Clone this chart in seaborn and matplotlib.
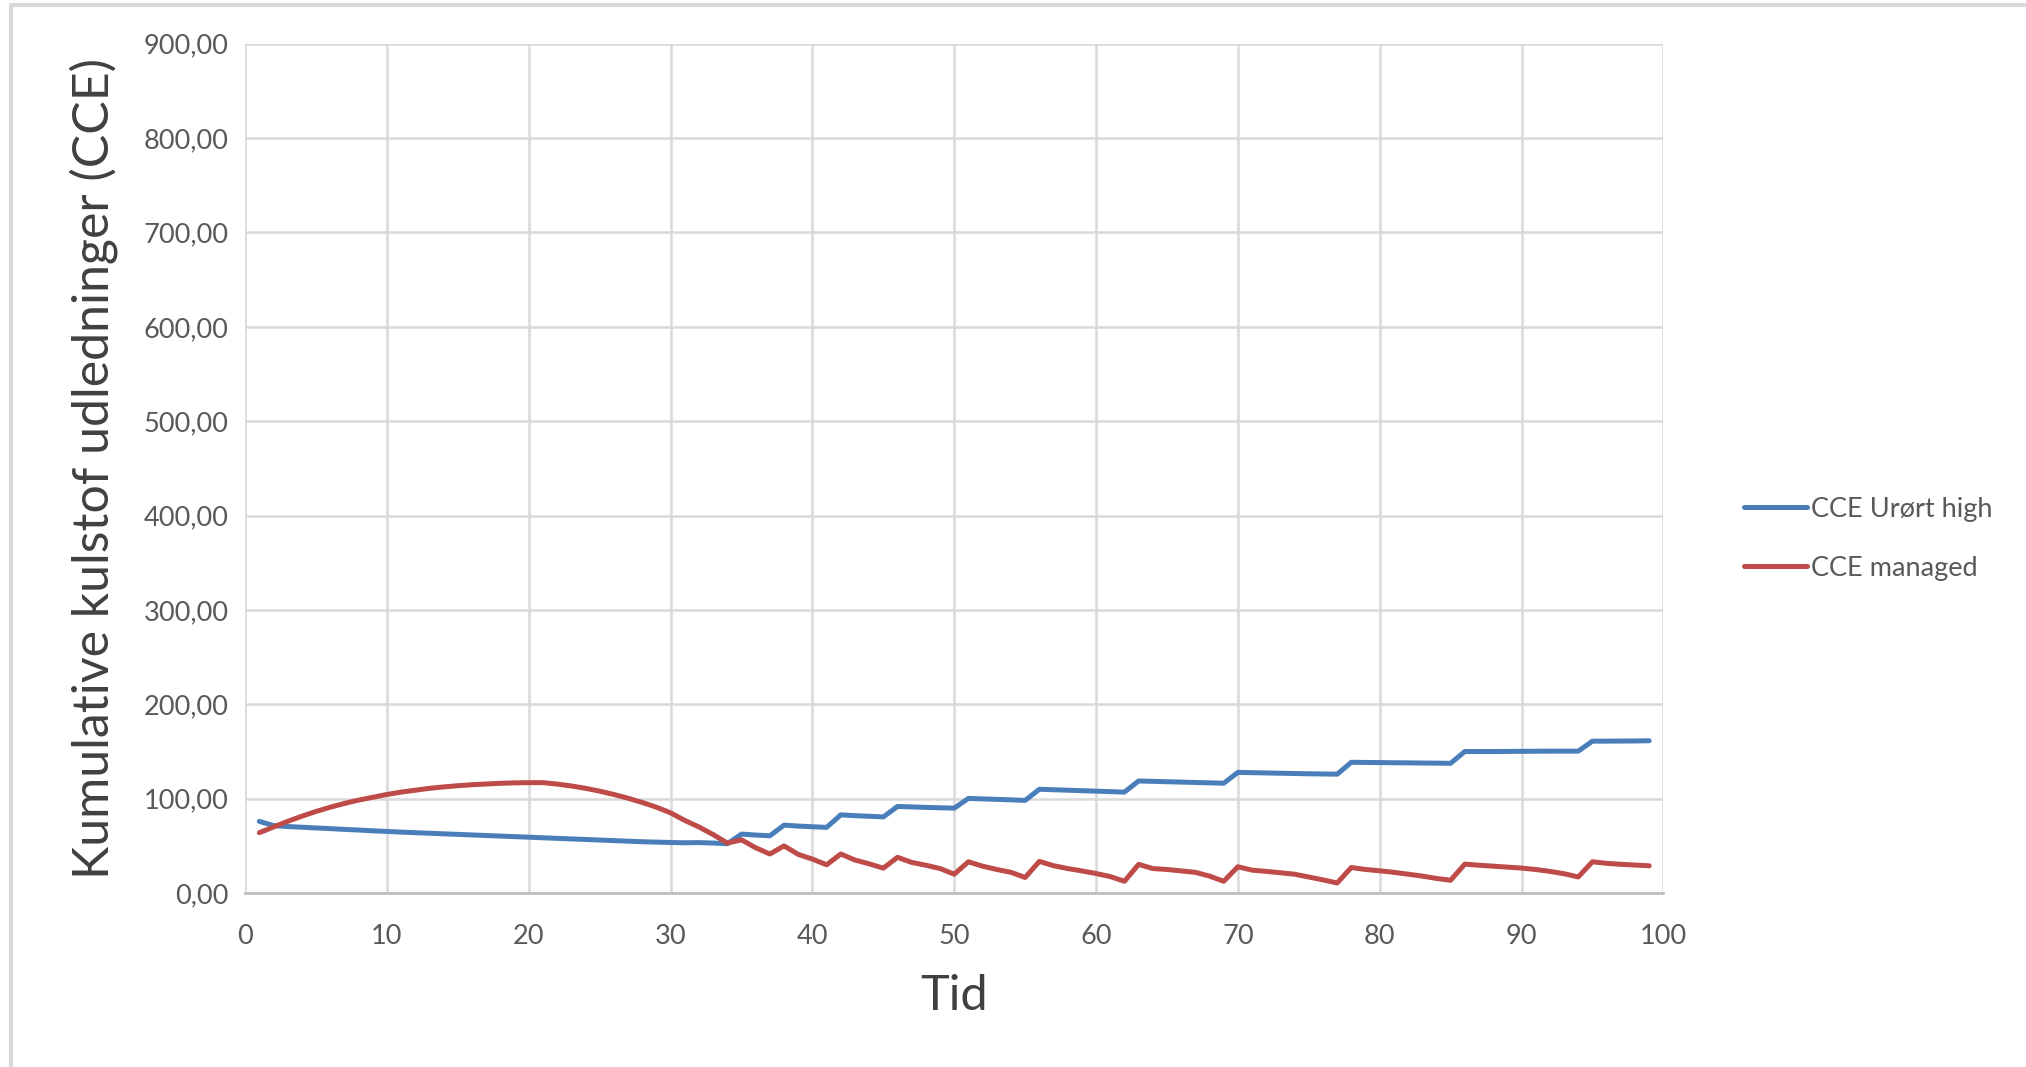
import numpy as np
import pandas as pd
import seaborn as sns
import matplotlib
matplotlib.use("Agg")
import matplotlib.pyplot as plt
from matplotlib.lines import Line2D
from matplotlib.ticker import FuncFormatter, MultipleLocator

years = list(range(1, 100))

cce_urort_high = [
    76, 71.5, 70.5, 69.8, 69, 68.3, 67.5, 66.8, 66, 65.3,
    64.6, 64, 63.4, 62.8, 62.2, 61.6, 61, 60.4, 59.8, 59.2,
    58.6, 58, 57.4, 56.8, 56.2, 55.6, 55, 54.4, 54, 53.6,
    53.3, 53.5, 53, 52.3, 62.5, 61.5, 60.7, 72, 71, 70.3,
    69.6, 82.9, 82, 81.4, 80.7, 91.8, 91.3, 90.8, 90.4, 90,
    100.3, 99.8, 99.3, 98.8, 98.2, 110, 109.5, 109, 108.5, 108,
    107.5, 107, 118.8, 118.4, 118, 117.6, 117.2, 116.8, 116.4, 127.9,
    127.6, 127.3, 127, 126.7, 126.4, 126.2, 126, 138.6, 138.4, 138.3,
    138.1, 138, 137.8, 137.7, 137.5, 150, 150, 150, 150.1, 150.2,
    150.3, 150.4, 150.4, 150.4, 161, 161, 161.1, 161.2, 161.4,
]

cce_managed = [
    64, 70, 76, 81.5, 86.5, 91, 95, 98.5, 101.5, 104.5,
    107, 109, 111, 112.5, 113.8, 114.8, 115.6, 116.3, 116.8, 117,
    117, 115.5, 113.5, 111, 108, 104.5, 100.5, 96, 91, 85,
    77, 70, 62, 53, 56.4, 48, 41.4, 50, 41, 36,
    30, 41.4, 35, 31, 26.4, 37.9, 32.5, 29.5, 26, 20,
    33.2, 28.5, 25, 22, 16.5, 33.6, 29, 26, 23.5, 20.7,
    17.5, 12.5, 30.4, 26, 25, 23.5, 22, 18, 12.5, 27.9,
    24.3, 23, 21.5, 20, 17, 14, 10.7, 27.1, 25, 23.6,
    22, 20, 18, 15.5, 13.6, 30.7, 29.5, 28.5, 27.5, 26.5,
    25, 23, 20.5, 17.1, 33.2, 31.5, 30.5, 29.7, 28.9,
]

series_names = ["CCE Urørt high", "CCE managed"]
x_label = "Tid"
y_label = "Kumulative kulstof udledninger (CCE)"

df = pd.DataFrame({
    "Tid": years * 2,
    "value": cce_urort_high + cce_managed,
    "series": [series_names[0]] * len(years) + [series_names[1]] * len(years),
})

sns.set_theme(style="white")
plt.rcParams["font.family"] = ["Lato", "DejaVu Sans"]

fig = plt.figure(figsize=(20.26, 10.67), dpi=100)
ax = fig.add_axes([0.121, 0.163, 0.700, 0.796])

palette = {series_names[0]: "#4a7ebb", series_names[1]: "#be4b48"}
sns.lineplot(data=df, x="Tid", y="value", hue="series", palette=palette,
             linewidth=3.6, ax=ax, legend=False)

ax.set_xlim(0, 100)
ax.set_ylim(0, 900)
ax.xaxis.set_major_locator(MultipleLocator(10))
ax.yaxis.set_major_locator(MultipleLocator(100))
ax.yaxis.set_major_formatter(FuncFormatter(lambda v, p: f"{v:.2f}".replace(".", ",")))
ax.grid(True, color="#d9d9d9", linewidth=1.8)
ax.set_axisbelow(True)
for s in ["left", "right", "top"]:
    ax.spines[s].set_visible(False)
ax.spines["bottom"].set_color("#bfbfbf")
ax.spines["bottom"].set_linewidth(2)
ax.tick_params(axis="both", length=0, labelsize=19.5, labelcolor="#595959")
ax.tick_params(axis="x", pad=22)
ax.tick_params(axis="y", pad=12)

ax.set_xlabel(x_label, fontsize=35, color="#404040", labelpad=18)
ax.set_ylabel(y_label, fontsize=36, color="#404040", labelpad=18)

handles = [Line2D([0], [0], color=palette[n], linewidth=3.6) for n in series_names]
leg = fig.legend(handles, series_names, loc="center left",
                 bbox_to_anchor=(0.849, 0.495), frameon=False,
                 fontsize=19.5, handlelength=2.3, handletextpad=0.15,
                 labelspacing=1.25, labelcolor="#595959")

fig.add_artist(Line2D([0.0054, 0.0054], [0, 0.995], color="#d9d9d9", linewidth=3,
                      transform=fig.transFigure))
fig.add_artist(Line2D([0.0054, 1.0], [0.995, 0.995], color="#d9d9d9", linewidth=3,
                      transform=fig.transFigure))

fig.savefig("out.png", dpi=100, facecolor="white")
